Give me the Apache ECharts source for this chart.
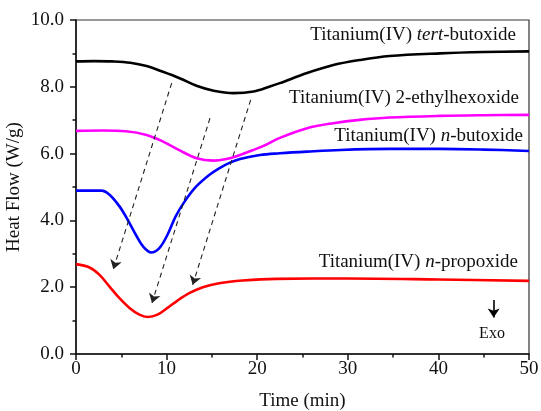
<!DOCTYPE html>
<html>
<head>
<meta charset="utf-8">
<script src="https://cdn.jsdelivr.net/npm/echarts@6/dist/echarts.min.js"></script>
<style>html,body{margin:0;padding:0;background:#fff}#c{width:541px;height:411px}</style>
</head>
<body>
<div id="c"></div>
<script>
// ---- data ----
const blackT = [0, 2, 4, 6, 7.8, 9.6, 11.5, 13.3, 15.2, 17.4, 19.6, 21.4, 22.5, 25.5, 28.4, 31.3, 34.6, 40.2, 45, 50];
const blackV = [8.76, 8.77, 8.76, 8.72, 8.62, 8.45, 8.25, 8.03, 7.88, 7.81, 7.86, 8.01, 8.11, 8.41, 8.65, 8.80, 8.92, 9.00, 9.04, 9.06];
const magentaT = [0, 3, 5.5, 7.8, 9.6, 11.5, 13.3, 15.2, 16.6, 18.1, 19.5, 20.7, 22.5, 25.5, 28.4, 31.3, 34.6, 40.2, 45, 50];
const magentaV = [6.68, 6.69, 6.67, 6.56, 6.36, 6.09, 5.86, 5.79, 5.84, 5.96, 6.10, 6.23, 6.47, 6.76, 6.91, 7.01, 7.08, 7.13, 7.15, 7.16];
const blueT = [0, 2.8, 3.7, 4.8, 5.7, 6.6, 7.4, 8.3, 9.2, 10.1, 11.0, 12.0, 13.25, 14.7, 15.8, 17.0, 18.1, 20.3, 22.5, 25.5, 29.2, 34.6, 40.2, 45, 50];
const blueV = [4.89, 4.89, 4.77, 4.42, 4.02, 3.57, 3.22, 3.04, 3.17, 3.57, 4.12, 4.57, 5.01, 5.36, 5.56, 5.73, 5.84, 5.96, 6.01, 6.06, 6.11, 6.14, 6.14, 6.12, 6.08];
const redT = [0, 1.5, 2.6, 3.7, 4.8, 5.9, 7.0, 7.9, 9.0, 10.1, 11.2, 12.5, 14.0, 15.8, 18.4, 22.1, 30, 40, 50];
const redV = [2.69, 2.59, 2.37, 2.02, 1.67, 1.38, 1.18, 1.11, 1.18, 1.38, 1.60, 1.82, 2.00, 2.12, 2.20, 2.25, 2.26, 2.23, 2.19];
// dashed arrows: start [t, v] -> end [t, v]
const arrowStarts = [[10.56, 8.11], [14.79, 7.06], [19.28, 7.61]];
const arrowEnds = [[4.12, 2.54], [8.39, 1.53], [12.88, 2.07]];
const exoArrow = [[46.1, 1.62], [46.1, 1.09]];

const FONT = '"Liberation Serif", "Times New Roman", serif';
const zip = (a, b) => a.map((x, i) => [x, b[i]]);

const chart = echarts.init(document.getElementById('c'), null, {renderer: 'canvas'});
function mkSeries(name, t, v, color, extra) {
  return Object.assign({
    name, type: 'line', data: zip(t, v), showSymbol: false, smooth: 0.35,
    lineStyle: {color, width: 2.6}, itemStyle: {color}, animation: false, silent: true
  }, extra || {});
}
function rt(x, y, parts) {
  return {
    type: 'text', x, y, silent: true,
    style: {
      text: parts.map(p => '{' + (p[1] ? 'i' : 'n') + '|' + p[0] + '}').join(''),
      align: 'right', verticalAlign: 'middle',
      rich: {
        n: {fontFamily: FONT, fontSize: 19, fill: '#111', color: '#111'},
        i: {fontFamily: FONT, fontSize: 19, fontStyle: 'italic', fill: '#111', color: '#111'}
      }
    }
  };
}
chart.setOption({
  animation: false,
  grid: {left: 76, right: 12, top: 20, bottom: 57, show: true, borderColor: '#333', borderWidth: 1.2,
         containLabel: false, outerBoundsMode: 'none'},
  xAxis: {
    type: 'value', min: 0, max: 50, interval: 10,
    name: 'Time (min)', nameLocation: 'middle', nameGap: 38, nameMoveOverlap: false,
    nameTextStyle: {fontFamily: FONT, fontSize: 19, color: '#111'},
    axisLine: {show: true, onZero: false, lineStyle: {color: '#111', width: 1.5}},
    axisTick: {show: true, length: 6, lineStyle: {color: '#111', width: 1.5}},
    minorTick: {show: true, splitNumber: 2, length: 3.5, lineStyle: {color: '#111', width: 1.5}},
    splitLine: {show: false},
    axisLabel: {fontFamily: FONT, fontSize: 19, color: '#111', margin: 6}
  },
  yAxis: {
    type: 'value', min: 0, max: 10, interval: 2,
    name: 'Heat Flow (W/g)', nameLocation: 'middle', nameGap: 52, nameMoveOverlap: false,
    nameTextStyle: {fontFamily: FONT, fontSize: 19, color: '#111'},
    axisLine: {show: true, onZero: false, lineStyle: {color: '#111', width: 1.5}},
    axisTick: {show: true, length: 6, lineStyle: {color: '#111', width: 1.5}},
    minorTick: {show: true, splitNumber: 2, length: 3.5, lineStyle: {color: '#111', width: 1.5}},
    splitLine: {show: false},
    axisLabel: {fontFamily: FONT, fontSize: 19, color: '#111', margin: 12, formatter: v => v.toFixed(1)}
  },
  series: [
    mkSeries('tert', blackT, blackV, '#000000'),
    mkSeries('2eh', magentaT, magentaV, '#ff00ff'),
    mkSeries('nbu', blueT, blueV, '#0000ff'),
    mkSeries('npr', redT, redV, '#ff0000', {
      markLine: {
        silent: true, animation: false, symbol: ['none', 'arrow'], symbolSize: 9,
        label: {show: false},
        lineStyle: {color: '#222', width: 1.1, type: [5, 4]},
        emphasis: {disabled: true},
        data: arrowStarts.map((s, i) => [{coord: s}, {coord: arrowEnds[i]}]).concat([[
          {coord: exoArrow[0], lineStyle: {type: 'solid', width: 1.6, color: '#000'}},
          {coord: exoArrow[1]}
        ]])
      }
    })
  ],
  graphic: [
    rt(516, 35, [['Titanium(IV) '], ['tert', 1], ['-butoxide']]),
    rt(519, 98, [['Titanium(IV) 2-ethylhexoxide']]),
    rt(523, 136, [['Titanium(IV) '], ['n', 1], ['-butoxide']]),
    rt(518, 262, [['Titanium(IV) '], ['n', 1], ['-propoxide']]),
    {type: 'text', x: 492, y: 334, silent: true,
     style: {text: 'Exo', fill: '#111', font: '16px ' + FONT, align: 'center', verticalAlign: 'middle'}}
  ]
});
</script>
</body>
</html>
